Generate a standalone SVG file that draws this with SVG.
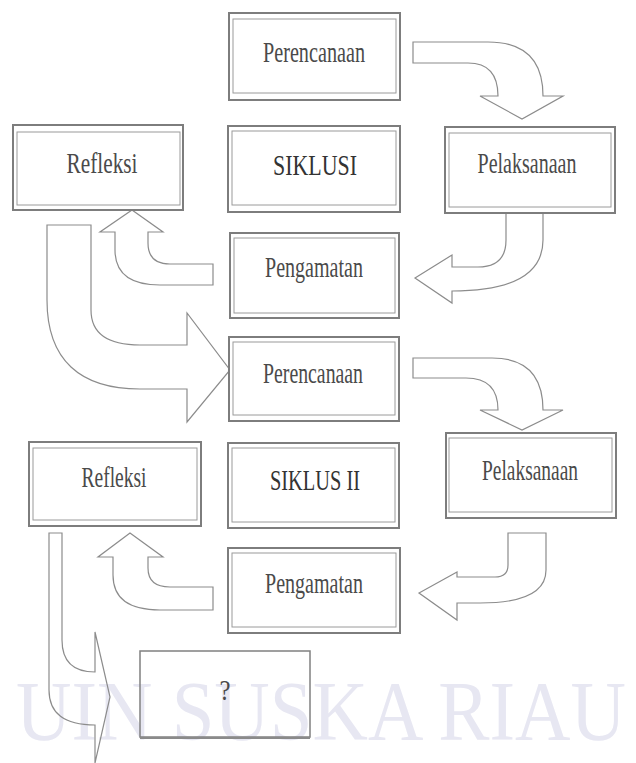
<svg xmlns="http://www.w3.org/2000/svg" width="636" height="763" viewBox="0 0 636 763">
<style>
.bg{fill:#ffffff}
.wm{font-family:"Liberation Serif",serif;font-size:60px;fill:#e7e7f2}
.outer{fill:#ffffff;stroke:#7d7d7d;stroke-width:2}
.inner{fill:none;stroke:#9a9a9a;stroke-width:1}
.base{stroke:#8a8a8a;stroke-width:2}
.lbl{font-family:"Liberation Serif",serif;font-size:29px;fill:#4a4a4a;text-anchor:middle}
.bold{fill:#333333}
.arr{fill:none;stroke:#8c8c8c;stroke-width:1.2;stroke-linejoin:miter}
</style>
<rect class="bg" x="0" y="0" width="636" height="763"/>
<g transform="translate(16,740) scale(1,1.4)">
<text class="wm" x="0" y="0" textLength="610" lengthAdjust="spacingAndGlyphs">UIN SUSKA RIAU</text>
</g>

<g id="connectors">
<path class="arr" d="M413,42 L488,42 Q543,42 543,96 L563,96 L522,119 L480,96 L498,96 Q498,63 468,63 L413,63 Z"/>
<path class="arr" d="M506,213 L506,240 Q506,267 478,267 L452,267 L452,255 L415,278 L452,303 L452,291 Q543,291 543,240 L543,213 Z"/>
<path class="arr" d="M213,264 L170,264 Q148,264 148,243 L148,232 L163,232 L132,210 L100,232 L115,232 L115,250 Q115,285 160,285 L213,285 Z"/>
<path class="arr" d="M47,225 L91,225 L91,310 Q91,345 140,345 L187,345 L187,313 L230,370 L187,422 L187,389 L140,389 C80,389 47,360 47,300 Z"/>
<path class="arr" d="M413,358 L492,358 Q543,358 543,410 L563,410 L522,430 L480,410 L498,410 Q498,378 466,378 L413,378 Z"/>
<path class="arr" d="M508,533 L546,533 L546,570 Q546,603 480,603 L457,603 L457,620 L419,593 L457,572 L457,577 L495,577 Q508,577 508,565 Z"/>
<path class="arr" d="M213,587 L170,587 Q148,587 148,568 L148,557 L163,557 L130,533 L98,557 L113,557 L113,575 Q113,610 160,610 L213,610 Z"/>
<path class="arr" d="M49,533 L62,533 L62,640 Q62,672 95,672 L95,632 L110,697 L95,763 L95,725 Q49,725 49,690 Z"/>
</g>

<g id="perencanaan1">
<rect class="outer" x="229" y="13" width="171" height="87"/>
<rect class="inner" x="233" y="19" width="163" height="74"/>
<text class="lbl" x="314" y="62" textLength="102" lengthAdjust="spacingAndGlyphs">Perencanaan</text>
</g>
<g id="siklus1">
<rect class="outer" x="228" y="126" width="172" height="86"/>
<rect class="inner" x="232" y="131" width="164" height="74"/>
<text class="lbl bold" x="315" y="175" textLength="84" lengthAdjust="spacingAndGlyphs">SIKLUSI</text>
</g>
<g id="pelaksanaan1">
<rect class="outer" x="445" y="127" width="170" height="86"/>
<rect class="inner" x="449" y="133" width="162" height="74"/>
<text class="lbl" x="527" y="173" textLength="99" lengthAdjust="spacingAndGlyphs">Pelaksanaan</text>
</g>
<g id="refleksi1">
<rect class="outer" x="13" y="125" width="170" height="85"/>
<rect class="inner" x="17" y="132" width="163" height="73"/>
<text class="lbl" x="102" y="173" textLength="71" lengthAdjust="spacingAndGlyphs">Refleksi</text>
</g>
<g id="pengamatan1">
<rect class="outer" x="230" y="233" width="169" height="85"/>
<rect class="inner" x="234" y="238" width="161" height="75"/>
<text class="lbl" x="314" y="277" textLength="98" lengthAdjust="spacingAndGlyphs">Pengamatan</text>
</g>
<g id="perencanaan2">
<rect class="outer" x="229" y="337" width="170" height="84"/>
<rect class="inner" x="233" y="342" width="162" height="73"/>
<text class="lbl" x="313" y="383" textLength="100" lengthAdjust="spacingAndGlyphs">Perencanaan</text>
</g>
<g id="refleksi2">
<rect class="outer" x="29" y="442" width="172" height="84"/>
<rect class="inner" x="33" y="448" width="164" height="72"/>
<text class="lbl" x="114" y="487" textLength="65" lengthAdjust="spacingAndGlyphs">Refleksi</text>
</g>
<g id="siklus2">
<rect class="outer" x="228" y="443" width="171" height="85"/>
<rect class="inner" x="232" y="448" width="163" height="74"/>
<text class="lbl bold" x="315" y="490" textLength="90" lengthAdjust="spacingAndGlyphs">SIKLUS II</text>
</g>
<g id="pelaksanaan2">
<rect class="outer" x="446" y="433" width="170" height="85"/>
<rect class="inner" x="449" y="438" width="163" height="74"/>
<text class="lbl" x="530" y="480" textLength="96" lengthAdjust="spacingAndGlyphs">Pelaksanaan</text>
</g>
<g id="pengamatan2">
<rect class="outer" x="228" y="548" width="172" height="85"/>
<rect class="inner" x="232" y="553" width="164" height="74"/>
<text class="lbl" x="314" y="593" textLength="98" lengthAdjust="spacingAndGlyphs">Pengamatan</text>
</g>
<g id="tanya">
<rect x="140" y="651" width="170" height="86" fill="none" stroke="#808080" stroke-width="1.5"/>
<line class="base" x1="140" y1="738" x2="310" y2="738"/>
<text class="lbl" x="225" y="700" font-size="34" textLength="11" lengthAdjust="spacingAndGlyphs">?</text>
</g>
</svg>
